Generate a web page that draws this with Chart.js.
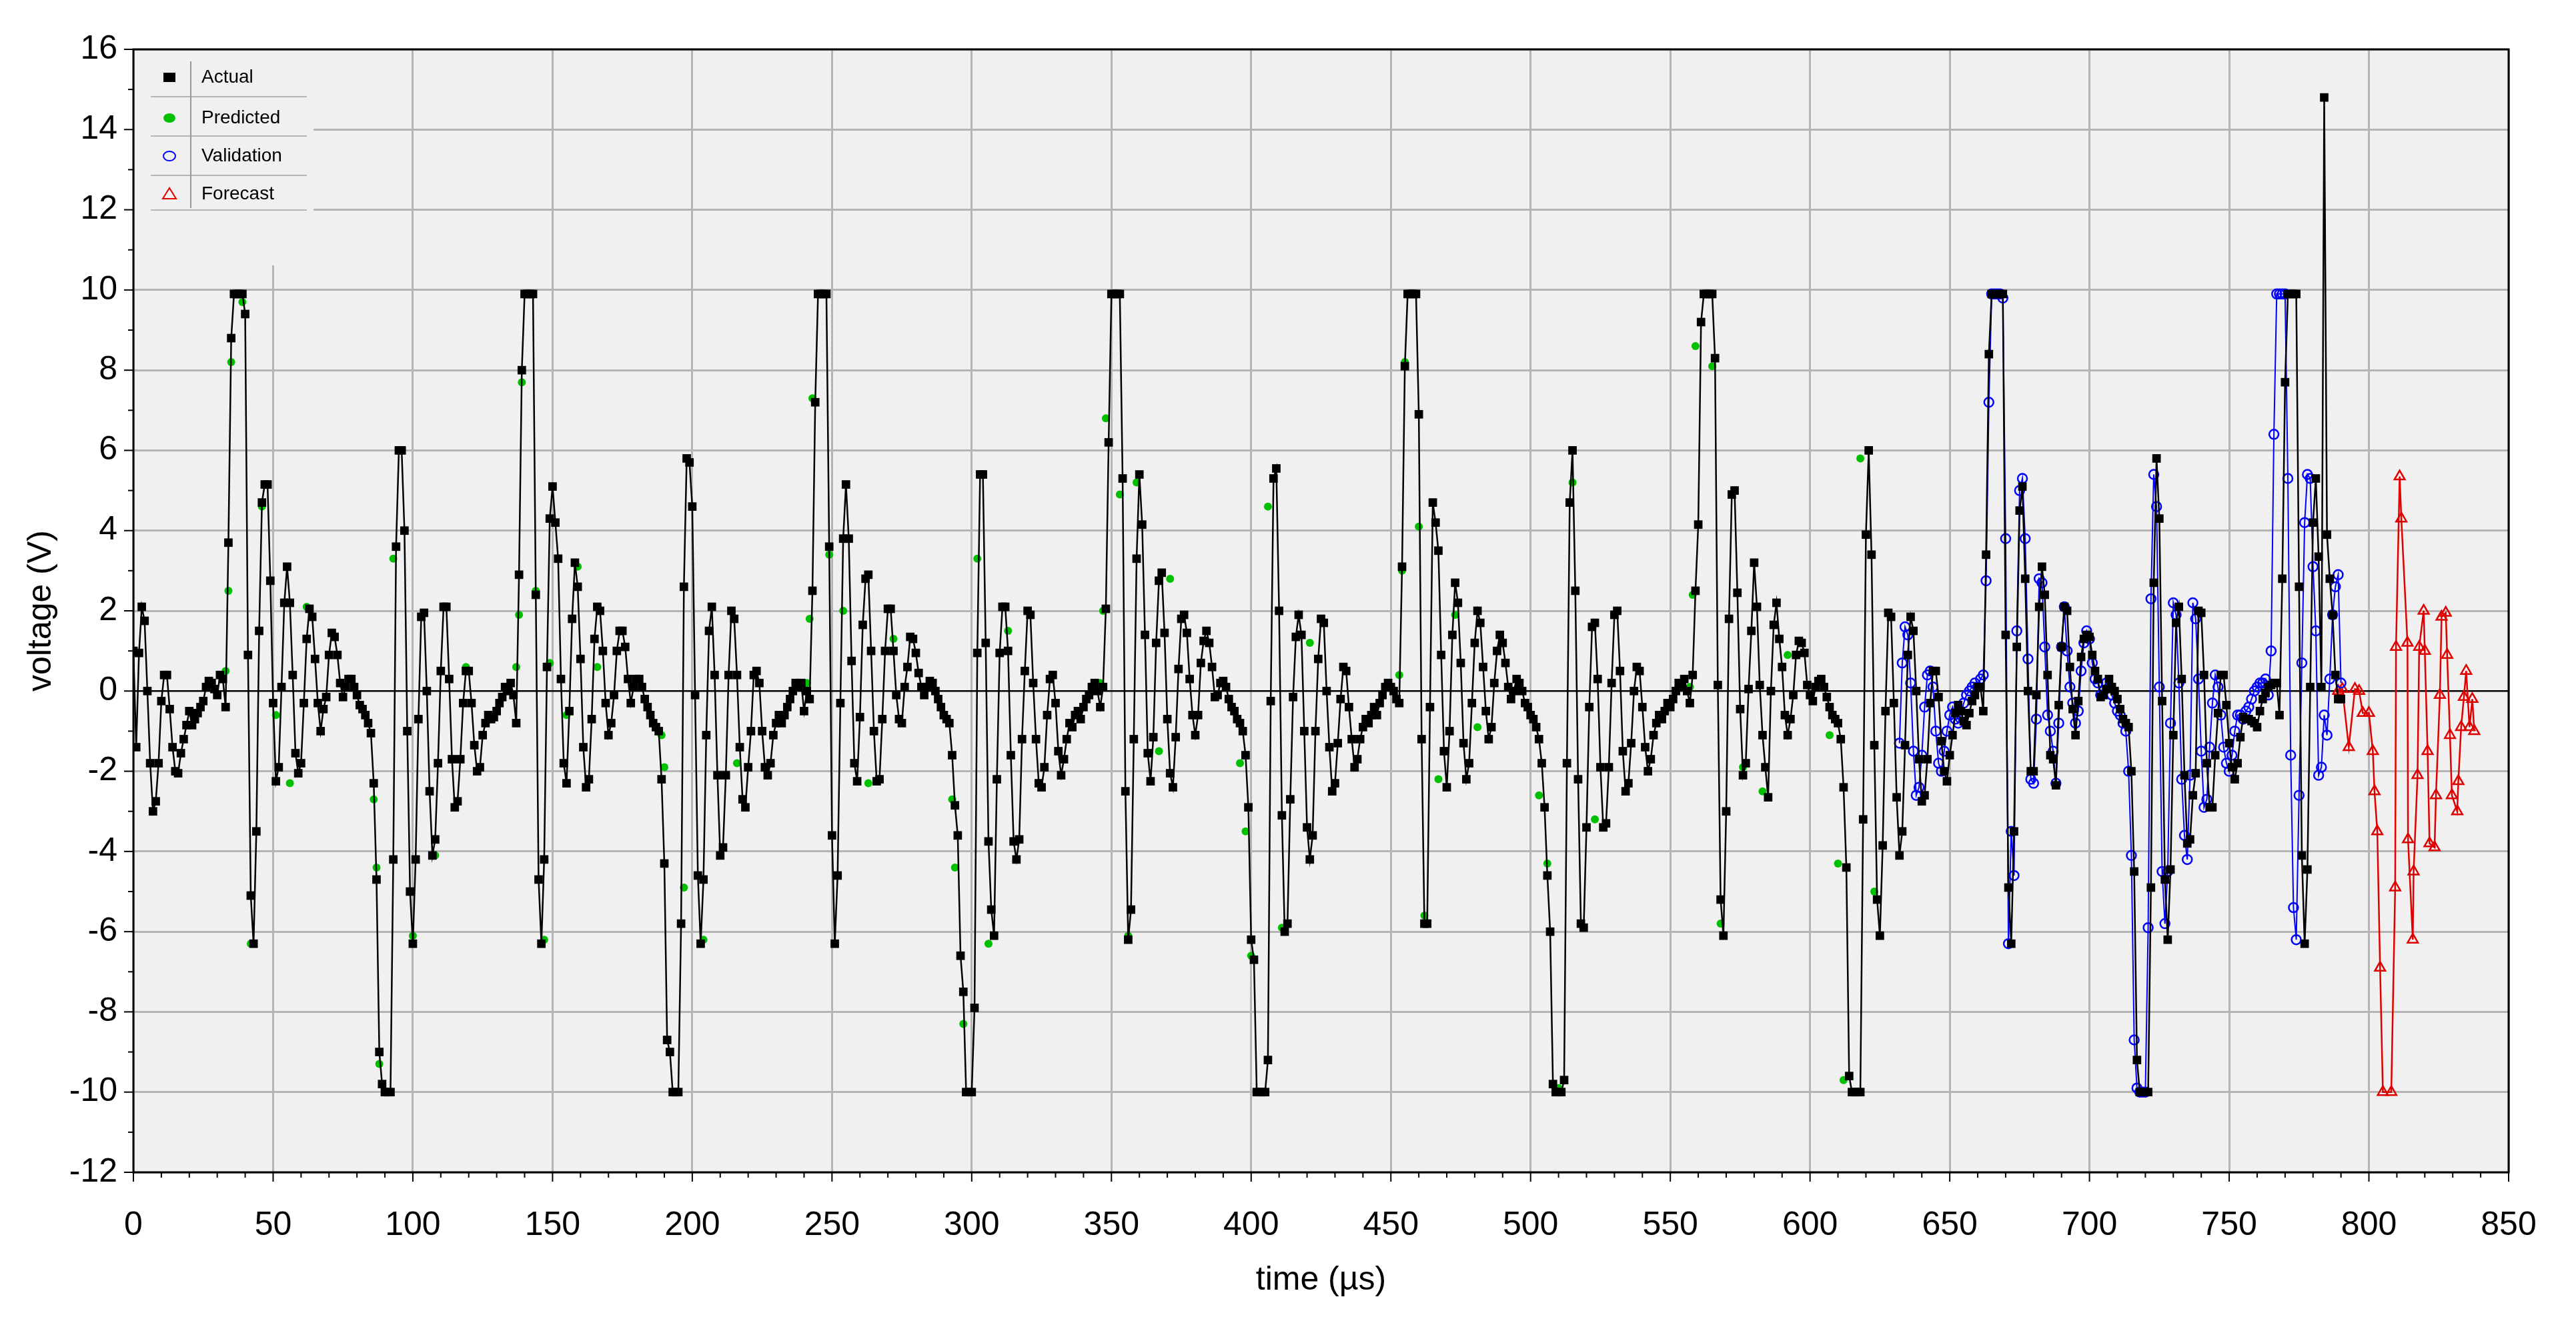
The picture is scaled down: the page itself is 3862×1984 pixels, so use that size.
<!DOCTYPE html>
<html>
<head>
<meta charset="utf-8">
<script src="https://cdn.jsdelivr.net/npm/chart.js@4.4.1/dist/chart.umd.min.js"></script>
<style>
  html, body { margin: 0; padding: 0; background: #fff; }
  #wrap { width: 3862px; height: 1984px; }
</style>
</head>
<body>
<div id="wrap"><canvas id="voltChart" width="3862" height="1984"></canvas></div>
<script>
const actualStart = [
  1.0, -1.4, 0.95, 2.1, 1.75, 0.0, -1.8, -3.0, -2.75, -1.8,
  -0.25, 0.4, 0.4, -0.45, -1.4, -2.0, -2.05, -1.55, -1.2, -0.85,
  -0.5, -0.85, -0.7, -0.55, -0.4, -0.25, 0.1, 0.25, 0.2, 0.05,
  -0.1, 0.4, 0.3, -0.4
];
const actualCycle1 = [
  3.7, 8.8, 9.9, 9.9, 9.9, 9.9, 9.4, 0.9, -5.1, -6.3,
  -3.5, 1.5, 4.7, 5.15, 5.15, 2.75, -0.3, -2.25, -1.9, 0.1,
  2.2, 3.1, 2.2, 0.4, -1.55, -2.05, -1.8, -0.3, 1.3, 2.05,
  1.85, 0.8, -0.3, -1.0, -0.45, -0.15, 0.9, 1.45, 1.35, 0.9,
  0.2, -0.15, 0.1, 0.3, 0.3, 0.1, -0.1, -0.35, -0.45, -0.6,
  -0.8, -1.05, -2.3, -4.7, -9.0, -9.8, -10, -10, -10, -4.2,
  3.6, 6.0, 6.0, 4.0, -1.0, -5.0, -6.3, -4.2, -0.7, 1.85,
  1.95, 0.0, -2.5, -4.1, -3.7, -1.8, 0.5, 2.1, 2.1, 0.3,
  -1.7, -2.9, -2.75, -1.7, -0.3, 0.5, 0.5, -0.3, -1.35, -2.0,
  -1.9, -1.1, -0.8, -0.6, -0.7, -0.65, -0.5, -0.3, -0.15, 0.1,
  0.0, 0.2, -0.1, -0.8
];
const actualCycle2 = [
  2.9, 8.0, 9.9, 9.9, 9.9, 9.9, 2.4, -4.7, -6.3, -4.2,
  0.6, 4.3, 5.1, 4.2, 3.3, 0.3, -1.8, -2.3, -0.5, 1.8,
  3.2, 2.6, 0.8, -1.4, -2.4, -2.2, -0.7, 1.3, 2.1, 2.0,
  1.0, -0.3, -1.1, -0.8, -0.1, 1.0, 1.5, 1.5, 1.1, 0.3,
  -0.3, 0.1, 0.3, 0.3, 0.1, -0.2, -0.4, -0.6, -0.8, -0.9,
  -1.0, -2.2, -4.3, -8.7, -9.0, -10, -10, -10, -5.8, 2.6,
  5.8, 5.7, 4.6, -0.1, -4.6, -6.3, -4.7, -1.1, 1.5, 2.1,
  0.4, -2.1, -4.1, -3.9, -2.1, 0.4, 2.0, 1.8, 0.4, -1.4,
  -2.7, -2.9, -1.9, -1.0, 0.4, 0.5, 0.2, -1.0, -1.9, -2.1,
  -1.8, -1.1, -0.8, -0.6, -0.8, -0.6, -0.4, -0.2, 0.0, 0.2,
  0.1, 0.2, -0.5, 0.0, -0.2
];
const actualCycle3 = [
  2.5, 7.2, 9.9, 9.9, 9.9, 9.9, 3.6, -3.6, -6.3, -4.6,
  -0.3, 3.8, 5.15, 3.8, 0.75, -1.8, -2.25, -0.65, 1.65, 2.8,
  2.9, 1.0, -1.0, -2.25, -2.2, -0.7, 1.0, 2.05, 2.05, 1.0,
  -0.1, -0.7, -0.8, 0.1, 0.6, 1.35, 1.3, 0.95, 0.45, 0.1,
  -0.1, 0.1, 0.25, 0.2, 0.0, -0.2, -0.4, -0.6, -0.7, -0.8,
  -1.6, -2.85, -3.6, -6.6, -7.5, -10, -10, -10, -7.9, 0.95,
  5.4, 5.4, 1.2, -3.75, -5.45, -6.1, -2.2, 0.95, 2.1, 2.1,
  1.0, -1.6, -3.75, -4.2, -3.7, -1.2, 0.5, 2.0, 1.9, 0.2,
  -1.2, -2.3, -2.4, -1.9, -0.6, 0.3, 0.4, -0.3, -1.5, -2.1,
  -1.7, -1.2, -0.8, -0.9, -0.6, -0.5, -0.7, -0.4, -0.2, -0.1,
  0.1, 0.2, 0.0, -0.4, 0.1
];
const actualCycle4 = [
  2.05, 6.2, 9.9, 9.9, 9.9, 9.9, 5.3, -2.5, -6.2, -5.45,
  -1.2, 3.3, 5.4, 4.15, 1.4, -1.55, -2.25, -1.15, 1.2, 2.75,
  2.95, 1.45, -0.7, -2.05, -2.4, -1.15, 0.55, 1.8, 1.9, 1.45,
  0.3, -0.6, -1.1, -0.6, 0.7, 1.25, 1.5, 1.2, 0.6, -0.15,
  -0.1, 0.2, 0.25, 0.1, -0.2, -0.4, -0.5, -0.7, -0.8, -1.0,
  -1.6, -2.9, -6.2, -6.7, -10, -10, -10, -10, -9.2, -0.25,
  5.3, 5.55, 2.0, -3.1, -6.0, -5.8, -2.7, -0.15, 1.35, 1.9,
  1.4, -1.0, -3.4, -4.2, -3.6, -1.0, 0.8, 1.8, 1.7, 0.0,
  -1.4, -2.5, -2.3, -1.3, -0.2, 0.6, 0.5, -0.4, -1.2, -1.9,
  -1.7, -1.2, -0.9, -0.7, -0.8, -0.6, -0.4, -0.6, -0.3, -0.1,
  0.1, 0.2, 0.1, 0.0, -0.2, -0.3
];
const actualCycle5 = [
  3.1, 8.1, 9.9, 9.9, 9.9, 9.9, 6.9, -1.2, -5.8, -5.8,
  -0.4, 4.7, 4.2, 3.5, 0.9, -1.5, -2.4, -1.0, 1.4, 2.7,
  2.2, 0.7, -1.3, -2.2, -1.8, -0.3, 1.2, 2.0, 1.7, 0.6,
  -0.5, -1.2, -0.9, 0.2, 1.0, 1.4, 1.2, 0.7, 0.1, -0.2,
  0.0, 0.3, 0.2, 0.0, -0.3, -0.4, -0.6, -0.7, -0.9, -1.2,
  -1.8, -2.9, -4.6, -6.0, -9.8, -10, -10, -10, -9.7, -1.8,
  4.7, 6.0, 2.5, -2.2, -5.8, -5.9, -3.4, -0.4, 1.6, 1.7,
  0.3, -1.9, -3.4, -3.3, -1.9, 0.2, 1.9, 2.0, 0.5, -1.5,
  -2.5, -2.3, -1.3, 0.0, 0.6, 0.5, -0.4, -1.4, -2.0, -1.7,
  -1.1, -0.8, -0.6, -0.7, -0.5, -0.3, -0.4, -0.2, 0.0, 0.2,
  0.1, 0.3, 0.0, -0.3, 0.4
];
const actualCycle6 = [
  2.5, 4.15, 9.2, 9.9, 9.9, 9.9, 9.9, 8.3, 0.15, -5.2,
  -6.1, -3.0, 1.8, 4.9, 5.0, 2.45, -0.45, -2.1, -1.8, 0.05,
  1.5, 3.2, 2.1, 0.15, -1.1, -1.9, -2.65, 0.0, 1.65, 2.2,
  1.3, 0.6, -0.6, -1.1, -0.7, -0.1, 0.9, 1.25, 1.2, 0.95,
  0.15, -0.1, -0.25, 0.1, 0.25, 0.3, 0.1, -0.15, -0.4, -0.6,
  -0.7, -0.8, -1.2, -2.4, -4.4, -9.6, -10, -10, -10, -10,
  -3.2, 3.9, 6.0, 3.4, -1.35, -5.2, -6.1, -3.85, -0.5, 1.95,
  1.85, -0.3, -2.65, -4.1, -3.5, -1.35, 0.9, 1.85, 1.5, 0.0,
  -1.7, -2.75, -2.6, -1.7, -0.3, 0.5, 0.5, -0.15, -1.25, -2.0,
  -2.25, -1.6, -1.1, -0.55, -0.35, -0.5, -0.75, -0.85, -0.55, -0.25,
  -0.1, 0.1, 0.1, -0.5
];
const actualCycle7 = [
  3.4, 8.4, 9.9, 9.9, 9.9, 9.9, 9.9, 1.4, -4.9, -6.3,
  -3.5, 1.1, 4.5, 5.1, 2.8, 0.0, -2.0, -2.0, -0.1, 2.1,
  3.1, 2.4, 0.4, -1.6, -1.7, -2.35, -0.35, 1.1, 2.1, 2.0,
  0.6, -0.45, -1.1, -0.25, 0.85, 1.3, 1.4, 1.35, 0.9, 0.5,
  0.3, -0.15, -0.1, 0.05, 0.3, 0.1, 0.0, -0.2, -0.45, -0.7,
  -0.8, -0.9, -2.0, -4.5, -9.2, -10, -10, -10, -10, -4.9,
  2.7, 5.8, 4.3, -0.25, -4.7, -6.2, -4.45, -1.1, 1.7, 2.1,
  0.3, -2.1, -3.8, -3.7, -2.6, -2.05, 2.0, 1.95, 0.4, -1.8,
  -2.9, -2.9, -1.6, -0.55, 0.4, 0.4, -0.35, -1.3, -1.9, -2.2,
  -1.8, -1.15, -0.65, -0.7, -0.7, -0.75, -0.8, -0.9, -0.5, -0.2,
  -0.05, 0.1, 0.15, 0.2, 0.2, -0.6, 2.8, 7.7, 9.9, 9.9,
  9.9, 9.9, 2.6, -4.1, -6.3, -4.45, 0.1, 4.2, 5.3, 3.35,
  0.1, 14.8, 3.9, 2.8, 1.9, 0.4, -0.2, -0.2
];
const actualValues = [].concat(actualStart, actualCycle1, actualCycle2, actualCycle3,
  actualCycle4, actualCycle5, actualCycle6, actualCycle7);

// model output over the training part (only where it shows beside the black marks)
const predictedTime = [
  33, 34, 35, 39, 42, 45, 46, 51, 56, 62, 86, 87, 88, 93, 100, 108, 119,
  137, 138, 139, 144, 147, 149, 155, 159, 166, 189, 190, 191, 197, 204, 216,
  241, 242, 243, 249, 251, 254, 263, 272, 293, 294, 297, 302, 306, 313,
  346, 347, 348, 353, 356, 359, 367, 371, 396, 398, 400, 406, 411, 421,
  453, 454, 455, 460, 462, 467, 473, 481, 503, 506, 510, 515, 523,
  557, 558, 559, 565, 568, 576, 583, 592, 607, 610, 612, 618, 623
];
const predictedValues = [
  0.5, 2.5, 8.2, 9.7, -6.3, 1.5, 4.6, -0.6, -2.3, 2.1, -2.7, -4.4, -9.3, 3.3, -6.1, -4.1, 0.6,
  0.6, 1.9, 7.7, 2.5, -6.2, 0.7, -0.6, 3.1, 0.6, -1.1, -1.9, -8.7, -4.9, -6.2, -1.8,
  0.2, 1.8, 7.3, 3.4, -6.3, 2.0, -2.3, 1.3, -2.7, -4.4, -8.3, 3.3, -6.3, 1.5,
  0.2, 2.0, 6.8, 4.9, -6.1, 5.2, -1.5, 2.8, -1.8, -3.5, -6.6, 4.6, -5.9, 1.2,
  0.4, 3.0, 8.2, 4.1, -5.6, -2.2, 1.9, -0.9, -2.6, -4.3, -9.9, 5.2, -3.2,
  0.1, 2.4, 8.6, 8.1, -5.8, -1.9, -2.5, 0.9, -1.1, -4.3, -9.7, 5.8, -5.0
];

// validation window, 1 µs per sample from 632 µs
const validationFirst = 632;
const validationValues = [
  -1.3, 0.7, 1.6, 1.4, 0.2, -1.5, -2.6, -2.4, -1.6, -0.4,
  0.4, 0.5, 0.1, -1.0, -1.8, -2.0, -1.5, -1.0, -0.6, -0.4,
  -0.7, -0.8, -0.6, -0.3, -0.1, 0.0, 0.1, 0.2, 0.1, 0.3,
  0.4, 2.75, 7.2, 9.9, 9.9, 9.9, 9.9, 9.8, 3.8, -6.3,
  -3.5, -4.6, 1.5, 5.0, 5.3, 3.8, 0.8, -2.2, -2.3, -0.7,
  2.8, 2.7, 1.1, -0.6, -1.0, -1.5, -2.3, -0.8, 1.1, 2.1,
  1.0, 0.1, -0.3, -0.8, -0.5, 0.5, 1.2, 1.5, 1.3, 0.7,
  0.3, 0.2, -0.1, 0.0, 0.2, 0.1, -0.1, -0.3, -0.5, -0.6,
  -0.8, -1.0, -2.0, -4.1, -8.7, -9.9, -10, -10, -10, -5.9,
  2.3, 5.4, 4.6, 0.1, -4.5, -5.8, -4.5, -0.8, 2.2, 1.9,
  0.2, -2.2, -3.6, -4.2, -2.1, 2.2, 1.8, 0.3, -1.5, -2.9,
  -2.7, -1.4, -0.3, 0.4, 0.1, -0.6, -1.4, -1.8, -2.0, -1.6,
  -1.0, -0.6, -0.6, -0.7, -0.5, -0.4, -0.2, 0.0, 0.1, 0.2,
  0.2, 0.3, -0.1, 1.0, 6.4, 9.9, 9.9, 9.9, 9.9, 5.3,
  -1.6, -5.4, -6.2, -2.6, 0.7, 4.2, 5.4, 5.3, 3.1, 1.5,
  -2.1, -1.9, -0.6, -1.1, 0.3, 1.9, 2.6, 2.9, 0.2
];

const forecastTime = [
  789, 790.5, 792.8, 795, 796.5, 797.8, 800, 801.4, 802, 803, 804, 805, 808,
  809.4, 809.7, 811, 811.6, 813.8, 814, 815.7, 816, 817.4, 818, 819.6, 820,
  821, 821.7, 823.5, 824, 825.4, 826, 827.5, 828, 829, 829.7, 831.6, 832,
  833, 834, 834.8, 836, 837, 837.7
];
const forecastValues = [
  0.0, 0.05, -1.4, 0.05, 0.0, -0.55, -0.55, -1.5, -2.5, -3.5, -6.9, -10, -10,
  -4.9, 1.1, 5.35, 4.3, 1.2, -3.7, -6.2, -4.5, -2.1, 1.1, 2.0, 1.0,
  -1.5, -3.8, -3.9, -2.6, -0.1, 1.85, 1.95, 0.9, -1.1, -2.6, -3.0, -2.25,
  -0.9, -0.15, 0.5, -0.9, -0.2, -1.0
];

const xTicksStep = 50;
const yTicksStep = 2;

const actualPts = actualValues.map((v, i) => ({ x: i, y: v }));
const predictedPts = predictedTime.map((t, i) => ({ x: t, y: predictedValues[i] }));
const validationPts = validationValues.map((v, i) => ({ x: validationFirst + i, y: v }));
const forecastPts = forecastTime.map((t, i) => ({ x: t, y: forecastValues[i] }));

const FONT = '"Liberation Sans", Arial, sans-serif';

// plot background, legend box, minor ticks, frame
const framePlugin = {
  id: 'frame',
  beforeDraw(chart) {
    const a = chart.chartArea, ctx = chart.ctx;
    ctx.save();
    ctx.fillStyle = '#ffffff';
    ctx.fillRect(0, 0, chart.width, chart.height);
    ctx.fillStyle = '#f0f0f0';
    ctx.fillRect(a.left, a.top, a.right - a.left, a.bottom - a.top);
    ctx.restore();
  },
  beforeDatasetsDraw(chart) {
    const a = chart.chartArea, ctx = chart.ctx;
    ctx.save();
    // legend box hides the grid under it
    ctx.fillStyle = '#f0f0f0';
    ctx.fillRect(a.left + 2, a.top + 2, 268, 322);
    ctx.strokeStyle = '#b4b4b4';
    ctx.lineWidth = 2;
    [145, 204, 263, 315].forEach(y => {
      ctx.beginPath(); ctx.moveTo(226, y); ctx.lineTo(460, y); ctx.stroke();
    });
    ctx.strokeStyle = '#999';
    ctx.beginPath(); ctx.moveTo(286, 92); ctx.lineTo(286, 312); ctx.stroke();
    const rows = [
      ['Actual', 116], ['Predicted', 177], ['Validation', 234], ['Forecast', 291]
    ];
    ctx.font = '28px ' + FONT;
    ctx.textBaseline = 'middle';
    rows.forEach(r => {
      ctx.save();
      ctx.beginPath(); ctx.rect(290, r[1] - 25, 170, 50); ctx.clip();
      ctx.fillStyle = '#000';
      ctx.fillText(r[0], 302, r[1]);
      ctx.restore();
    });
    const mx = 254;
    ctx.fillStyle = '#000';
    ctx.fillRect(mx - 9, 116 - 7, 18, 14);
    ctx.fillStyle = '#00c000';
    ctx.beginPath(); ctx.ellipse(mx, 177, 9, 7, 0, 0, 2 * Math.PI); ctx.fill();
    ctx.strokeStyle = '#0000ff'; ctx.lineWidth = 2;
    ctx.beginPath(); ctx.ellipse(mx, 234, 9, 7, 0, 0, 2 * Math.PI); ctx.stroke();
    ctx.strokeStyle = '#e00000';
    ctx.beginPath(); ctx.moveTo(mx - 10, 298); ctx.lineTo(mx + 10, 298); ctx.lineTo(mx, 282); ctx.closePath(); ctx.stroke();
    ctx.restore();
  },
  afterDraw(chart) {
    const a = chart.chartArea, ctx = chart.ctx;
    const xs = chart.scales.x, ys = chart.scales.y;
    ctx.save();
    ctx.strokeStyle = '#000';
    ctx.lineWidth = 3;
    ctx.strokeRect(a.left, a.top, a.right - a.left, a.bottom - a.top);
    ctx.lineWidth = 2;
    for (let v = -12; v <= 16; v += 1) {
      const y = ys.getPixelForValue(v);
      const len = v % 2 === 0 ? 14 : 8;
      ctx.beginPath(); ctx.moveTo(a.left - len, y); ctx.lineTo(a.left, y); ctx.stroke();
    }
    for (let t = 0; t <= 850; t += 10) {
      const x = xs.getPixelForValue(t);
      const len = t % 50 === 0 ? 14 : 8;
      ctx.beginPath(); ctx.moveTo(x, a.bottom); ctx.lineTo(x, a.bottom + len); ctx.stroke();
    }
    ctx.restore();
  }
};

new Chart(document.getElementById('voltChart'), {
  type: 'scatter',
  data: {
    datasets: [
      {
        label: 'Actual', data: actualPts, showLine: true, order: 0,
        borderColor: '#000', borderWidth: 2.5, backgroundColor: '#000',
        pointStyle: 'rect', pointRadius: 9, pointBorderWidth: 0
      },
      {
        label: 'Predicted', data: predictedPts, showLine: false, order: 1,
        backgroundColor: '#00c000', borderColor: '#00c000',
        pointStyle: 'circle', pointRadius: 6, pointBorderWidth: 0
      },
      {
        label: 'Validation', data: validationPts, showLine: true, order: 2,
        borderColor: '#0000ff', borderWidth: 2, backgroundColor: 'rgba(0,0,0,0)',
        pointStyle: 'circle', pointRadius: 7, pointBorderWidth: 2.5, pointBorderColor: '#0000ff'
      },
      {
        label: 'Forecast', data: forecastPts, showLine: true, order: 3,
        borderColor: '#e00000', borderWidth: 2.5, backgroundColor: 'rgba(0,0,0,0)',
        pointStyle: 'triangle', pointRadius: 9, pointBorderWidth: 2.5, pointBorderColor: '#e00000'
      }
    ]
  },
  options: {
    responsive: false,
    animation: false,
    devicePixelRatio: 1,
    layout: { padding: { top: 74, right: 101, left: 28, bottom: 34 } },
    plugins: { legend: { display: false }, tooltip: { enabled: false } },
    elements: { line: { tension: 0 } },
    scales: {
      x: {
        type: 'linear', min: 0, max: 850,
        afterFit: s => { s.height = 192; },
        ticks: { stepSize: xTicksStep, color: '#000', font: { size: 50, family: FONT }, padding: 50, maxRotation: 0 },
        grid: { color: '#b4b4b4', lineWidth: 3, drawTicks: false },
        border: { display: false },
        title: { display: true, text: 'time (µs)', color: '#000', font: { size: 50, family: FONT }, padding: { top: 0, bottom: 0 } }
      },
      y: {
        type: 'linear', min: -12, max: 16,
        afterFit: s => { s.width = 172; },
        ticks: { stepSize: yTicksStep, color: '#000', font: { size: 50, family: FONT }, padding: 24 },
        grid: {
          color: ctx => ctx.tick && ctx.tick.value === 0 ? '#000' : '#b4b4b4',
          lineWidth: ctx => ctx.tick && ctx.tick.value === 0 ? 2.5 : 3,
          drawTicks: false
        },
        border: { display: false },
        title: { display: true, text: 'voltage (V)', color: '#000', font: { size: 50, family: FONT }, padding: { bottom: 0 } }
      }
    }
  },
  plugins: [framePlugin]
});
</script>
</body>
</html>
